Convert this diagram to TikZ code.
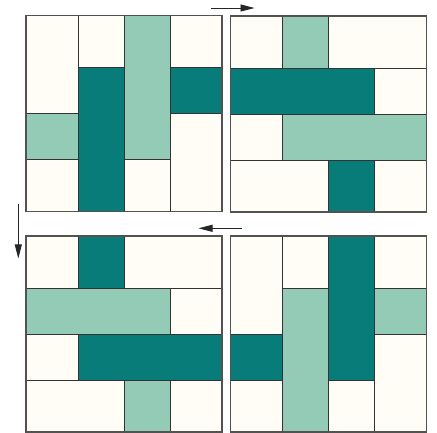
\documentclass[tikz,border=0pt]{standalone}
\usetikzlibrary{arrows.meta}
\definecolor{creamc}{HTML}{FFFDF5}
\definecolor{litec}{HTML}{94CBB7}
\definecolor{darkc}{HTML}{077C79}
\definecolor{edgec}{HTML}{333333}
\tikzset{
  base/.style={draw=edgec, line width=1pt},
  cream/.style={base, fill=creamc},
  lite/.style={base, fill=litec},
  dark/.style={base, fill=darkc},
  frame/.style={draw=edgec!85!white, line width=1.2pt},
  flow/.style={draw=black!85, line width=0.9pt, -{Triangle[length=14pt,width=7pt]}}
}
\begin{document}
\begin{tikzpicture}[x=1pt,y=-1pt]
\useasboundingbox (0,0) rectangle (437,433);
% Quadrant 1
\begin{scope}[shift={(26,15.7)}]
\path[cream] (0,0) rectangle (52,98.3);
\path[lite] (0,98.3) rectangle (52,144.3);
\path[cream] (0,144.3) rectangle (52,196);
\path[cream] (52,0) rectangle (98,52.3);
\path[dark] (52,52.3) rectangle (98,196);
\path[lite] (98,0) rectangle (144,144.3);
\path[cream] (98,144.3) rectangle (144,196);
\path[cream] (144,0) rectangle (196,52.3);
\path[dark] (144,52.3) rectangle (196,98.3);
\path[cream] (144,98.3) rectangle (196,196);
\path[frame] (0,0) rectangle (196,196);
\end{scope}
% Quadrant 2
\begin{scope}[shift={(230.3,16)}]
\path[cream] (0,0) rectangle (52,52.3);
\path[lite] (52,0) rectangle (98,52.3);
\path[cream] (98,0) rectangle (196,52.3);
\path[dark] (0,52.3) rectangle (144,98.3);
\path[cream] (144,52.3) rectangle (196,98.3);
\path[cream] (0,98.3) rectangle (52,144.3);
\path[lite] (52,98.3) rectangle (196,144.3);
\path[cream] (0,144.3) rectangle (98,196);
\path[dark] (98,144.3) rectangle (144,196);
\path[cream] (144,144.3) rectangle (196,196);
\path[frame] (0,0) rectangle (196,196);
\end{scope}
% Quadrant 3
\begin{scope}[shift={(26,236)}]
\path[cream] (0,0) rectangle (52,52.3);
\path[dark] (52,0) rectangle (98,52.3);
\path[cream] (98,0) rectangle (196,52.3);
\path[lite] (0,52.3) rectangle (144,98.3);
\path[cream] (144,52.3) rectangle (196,98.3);
\path[cream] (0,98.3) rectangle (52,144.3);
\path[dark] (52,98.3) rectangle (196,144.3);
\path[cream] (0,144.3) rectangle (98,196);
\path[lite] (98,144.3) rectangle (144,196);
\path[cream] (144,144.3) rectangle (196,196);
\path[frame] (0,0) rectangle (196,196);
\end{scope}
% Quadrant 4
\begin{scope}[shift={(230.3,236)}]
\path[cream] (0,0) rectangle (52,98.3);
\path[dark] (0,98.3) rectangle (52,144.3);
\path[cream] (0,144.3) rectangle (52,196);
\path[cream] (52,0) rectangle (98,52.3);
\path[lite] (52,52.3) rectangle (98,196);
\path[dark] (98,0) rectangle (144,144.3);
\path[cream] (98,144.3) rectangle (144,196);
\path[cream] (144,0) rectangle (196,52.3);
\path[lite] (144,52.3) rectangle (196,98.3);
\path[cream] (144,98.3) rectangle (196,196);
\path[frame] (0,0) rectangle (196,196);
\end{scope}
% Arrows
\coordinate (a1s) at (211,8);
\coordinate (a1e) at (254.5,8);
\coordinate (a2s) at (241.5,228.3);
\coordinate (a2e) at (198.5,228.3);
\coordinate (a3s) at (18.3,204);
\coordinate (a3e) at (18.3,258.5);
\draw[flow] (a1s) -- (a1e);
\draw[flow] (a2s) -- (a2e);
\draw[flow] (a3s) -- (a3e);
\end{tikzpicture}
\end{document}
